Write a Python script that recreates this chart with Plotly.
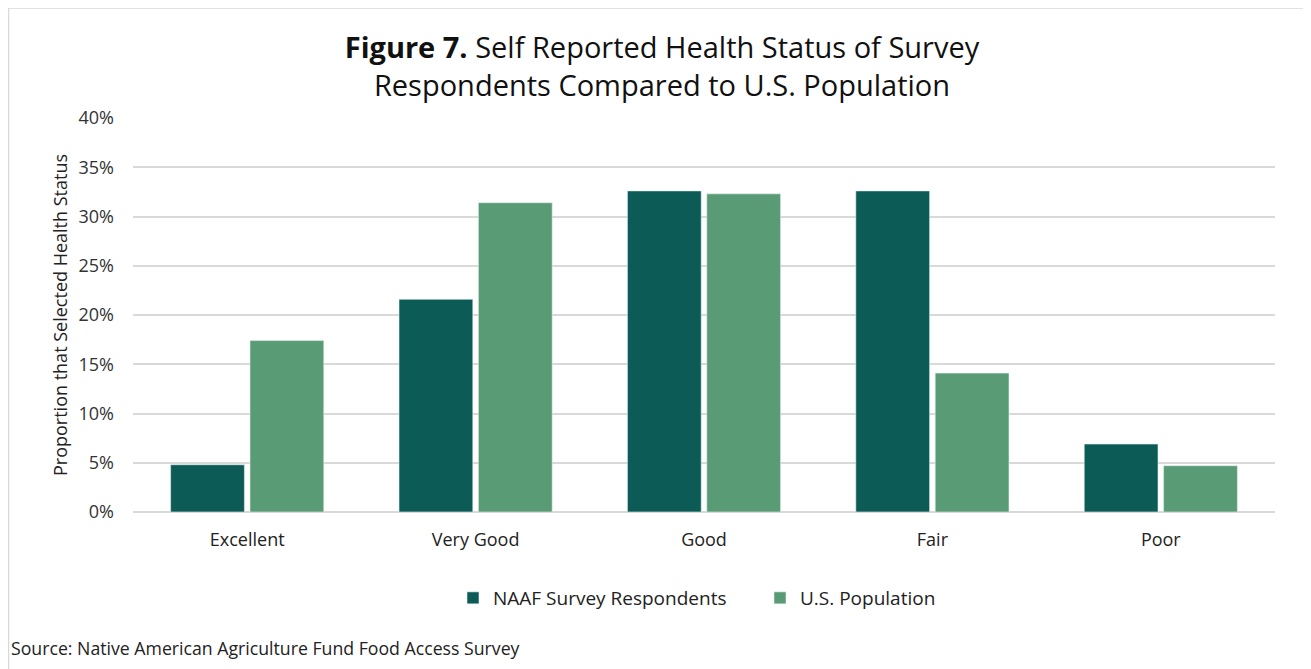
import plotly.graph_objects as go

# values (proportion, %)
categories = ['Excellent', 'Very Good', 'Good', 'Fair', 'Poor']
naaf_respondents = [4.8, 21.6, 32.6, 32.6, 6.9]
us_population = [17.4, 31.4, 32.3, 14.1, 4.7]
y_ticks = [0, 5, 10, 15, 20, 25, 30, 35, 40]
y_tick_labels = [f'{t}%' for t in y_ticks]

FONT = 'Open Sans'
DARK = '#0c5b56'
LIGHT = '#589b75'
GRID = '#d9d9d9'

# the page body keeps an 8px margin, so the figure is drawn 8px smaller
W, H = 1303, 661
L, R, T, B = 125, 36, 110, 157


def px_x(p):
    """pixel x in the figure -> paper x"""
    return (p - L) / (W - L - R)


def px_y(p):
    """pixel y in the figure (from top) -> paper y"""
    return (H - B - p) / (H - T - B)


fig = go.Figure()
fig.add_trace(go.Bar(
    x=categories, y=naaf_respondents, name='NAAF Survey Respondents',
    marker=dict(color=DARK, line=dict(color='#e8f0ee', width=0.6)),
))
fig.add_trace(go.Bar(
    x=categories, y=us_population, name='U.S. Population',
    marker=dict(color=LIGHT, line=dict(color='#e8f0ee', width=0.6)),
))

fig.update_layout(
    width=W, height=H,
    margin=dict(l=L, r=R, t=T, b=B),
    paper_bgcolor='white', plot_bgcolor='white',
    font=dict(family=FONT, color='#222222'),
    barmode='group', bargap=0.305, bargroupgap=0.07,
    title=dict(
        text='<b>Figure 7.</b> Self Reported Health Status of Survey<br>Respondents Compared to U.S. Population',
        font=dict(family=FONT, size=29, color='#111111'),
        x=654 / W, xref='container', xanchor='center',
        y=1 - 50 / H, yref='container', yanchor='middle',
    ),
    legend=dict(
        orientation='h', x=px_x(445), xanchor='left',
        yref='container', y=1 - 590 / H, yanchor='middle',
        font=dict(family=FONT, size=19, color='#222222'),
        itemwidth=30, traceorder='normal',
        entrywidth=262, entrywidthmode='pixels',
    ),
    showlegend=True,
)

fig.update_yaxes(
    range=[0, 40], tickvals=y_ticks, ticktext=y_tick_labels,
    showgrid=True, gridcolor=GRID, gridwidth=1.5,
    zeroline=True, zerolinecolor=GRID, zerolinewidth=1.5,
    showline=False, ticks='', ticklabelstandoff=18,
    tickfont=dict(family=FONT, size=18, color='#333333'),
    title=dict(text='Proportion that Selected Health Status', standoff=6,
               font=dict(family=FONT, size=18, color='#222222')),
)
fig.update_xaxes(
    showgrid=False, showline=False, ticks='', ticklabelstandoff=15,
    tickfont=dict(family=FONT, size=18, color='#222222'),
)

fig.add_annotation(
    text='Source: Native American Agriculture Fund Food Access Survey',
    xref='paper', yref='paper', x=px_x(1), y=px_y(640),
    xanchor='left', yanchor='middle', showarrow=False,
    font=dict(family=FONT, size=17.7, color='#222222'),
)

# light frame around the whole figure
fig.add_shape(
    type='rect', xref='paper', yref='paper',
    x0=px_x(0.5), x1=px_x(1302), y0=px_y(680), y1=px_y(0),
    line=dict(color=GRID, width=1.5), fillcolor='rgba(0,0,0,0)', layer='below',
)

fig.write_html('out.html')
